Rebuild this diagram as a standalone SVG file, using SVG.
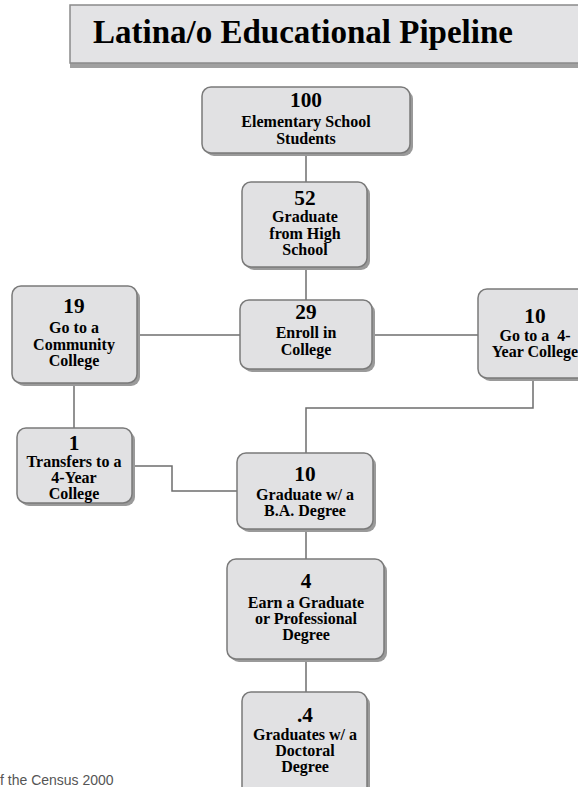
<svg xmlns="http://www.w3.org/2000/svg" width="578" height="787" viewBox="0 0 578 787">
<defs>
<style>
.box{fill:#e1e1e3;stroke:#7a7a7a;stroke-width:1.5}
.sh{fill:#9a9a9a}
.num{font-family:"Liberation Serif",serif;font-weight:bold;font-size:21.3px;fill:#000;text-anchor:middle}
.lbl{font-family:"Liberation Serif",serif;font-weight:bold;font-size:16px;fill:#000;text-anchor:middle}
.con{fill:none;stroke:#6e6e6e;stroke-width:1.5}
</style>
</defs>
<rect width="578" height="787" fill="#fff"/>
<g id="title">
<rect x="70" y="8" width="520" height="60" fill="#a0a0a0"/>
<rect x="70" y="5" width="520" height="58" fill="#e3e3e5" stroke="#8a8a8a" stroke-width="1.5"/>
<text x="93" y="43" font-family="'Liberation Serif',serif" font-weight="bold" font-size="33px" fill="#000">Latina/o Educational Pipeline</text>
</g>
<g id="connectors">
<line class="con" x1="306" y1="153" x2="306" y2="182"/>
<line class="con" x1="306" y1="267" x2="306" y2="300"/>
<line class="con" x1="137" y1="335" x2="240" y2="335"/>
<line class="con" x1="372" y1="335" x2="478" y2="335"/>
<line class="con" x1="74" y1="383" x2="74" y2="428"/>
<polyline class="con" points="132,466 172,466 172,491 237,491"/>
<polyline class="con" points="533,378 533,408 306,408 306,453"/>
<line class="con" x1="306" y1="529" x2="306" y2="559"/>
<line class="con" x1="306" y1="659" x2="306" y2="692"/>
</g>
<g id="n100">
<rect class="sh" x="205" y="90" width="208" height="66" rx="9"/>
<rect class="box" x="202" y="87" width="208" height="66" rx="9"/>
<text class="num" x="306" y="107">100</text>
<text class="lbl" x="306" y="127">Elementary School</text>
<text class="lbl" x="306" y="144">Students</text>
</g>
<g id="n52">
<rect class="sh" x="245" y="185" width="125" height="85" rx="9"/>
<rect class="box" x="242" y="182" width="125" height="85" rx="9"/>
<text class="num" x="305" y="205">52</text>
<text class="lbl" x="305" y="222">Graduate</text>
<text class="lbl" x="305" y="239">from High</text>
<text class="lbl" x="305" y="255">School</text>
</g>
<g id="n19">
<rect class="sh" x="15" y="289" width="125" height="97" rx="9"/>
<rect class="box" x="12" y="286" width="125" height="97" rx="9"/>
<text class="num" x="74" y="313">19</text>
<text class="lbl" x="74" y="333">Go to a</text>
<text class="lbl" x="74" y="350">Community</text>
<text class="lbl" x="74" y="366">College</text>
</g>
<g id="n29">
<rect class="sh" x="243" y="303" width="132" height="69" rx="9"/>
<rect class="box" x="240" y="300" width="132" height="69" rx="9"/>
<text class="num" x="306" y="319">29</text>
<text class="lbl" x="306" y="338">Enroll in</text>
<text class="lbl" x="306" y="355">College</text>
</g>
<g id="n10a">
<rect class="sh" x="481" y="292" width="114" height="89" rx="9"/>
<rect class="box" x="478" y="289" width="114" height="89" rx="9"/>
<text class="num" x="535" y="323">10</text>
<text class="lbl" x="535" y="341" xml:space="preserve">Go to a  4-</text>
<text class="lbl" x="535" y="357">Year College</text>
</g>
<g id="n1">
<rect class="sh" x="20" y="431" width="115" height="75" rx="9"/>
<rect class="box" x="17" y="428" width="115" height="75" rx="9"/>
<text class="num" x="74" y="450">1</text>
<text class="lbl" x="74" y="467">Transfers to a</text>
<text class="lbl" x="74" y="483">4-Year</text>
<text class="lbl" x="74" y="499">College</text>
</g>
<g id="n10b">
<rect class="sh" x="240" y="456" width="136" height="76" rx="9"/>
<rect class="box" x="237" y="453" width="136" height="76" rx="9"/>
<text class="num" x="305" y="481">10</text>
<text class="lbl" x="305" y="500">Graduate w/ a</text>
<text class="lbl" x="305" y="516">B.A. Degree</text>
</g>
<g id="n4">
<rect class="sh" x="230" y="562" width="157" height="100" rx="9"/>
<rect class="box" x="227" y="559" width="157" height="100" rx="9"/>
<text class="num" x="306" y="588">4</text>
<text class="lbl" x="306" y="608">Earn a Graduate</text>
<text class="lbl" x="306" y="624">or Professional</text>
<text class="lbl" x="306" y="640">Degree</text>
</g>
<g id="n04">
<rect class="sh" x="245" y="695" width="125" height="110" rx="9"/>
<rect class="box" x="242" y="692" width="125" height="110" rx="9"/>
<text class="num" x="305" y="722">.4</text>
<text class="lbl" x="305" y="740">Graduates w/ a</text>
<text class="lbl" x="305" y="756">Doctoral</text>
<text class="lbl" x="305" y="772">Degree</text>
</g>
<text x="0" y="785" font-family="'Liberation Sans',sans-serif" font-size="14px" fill="#555">f the Census 2000</text>
</svg>
